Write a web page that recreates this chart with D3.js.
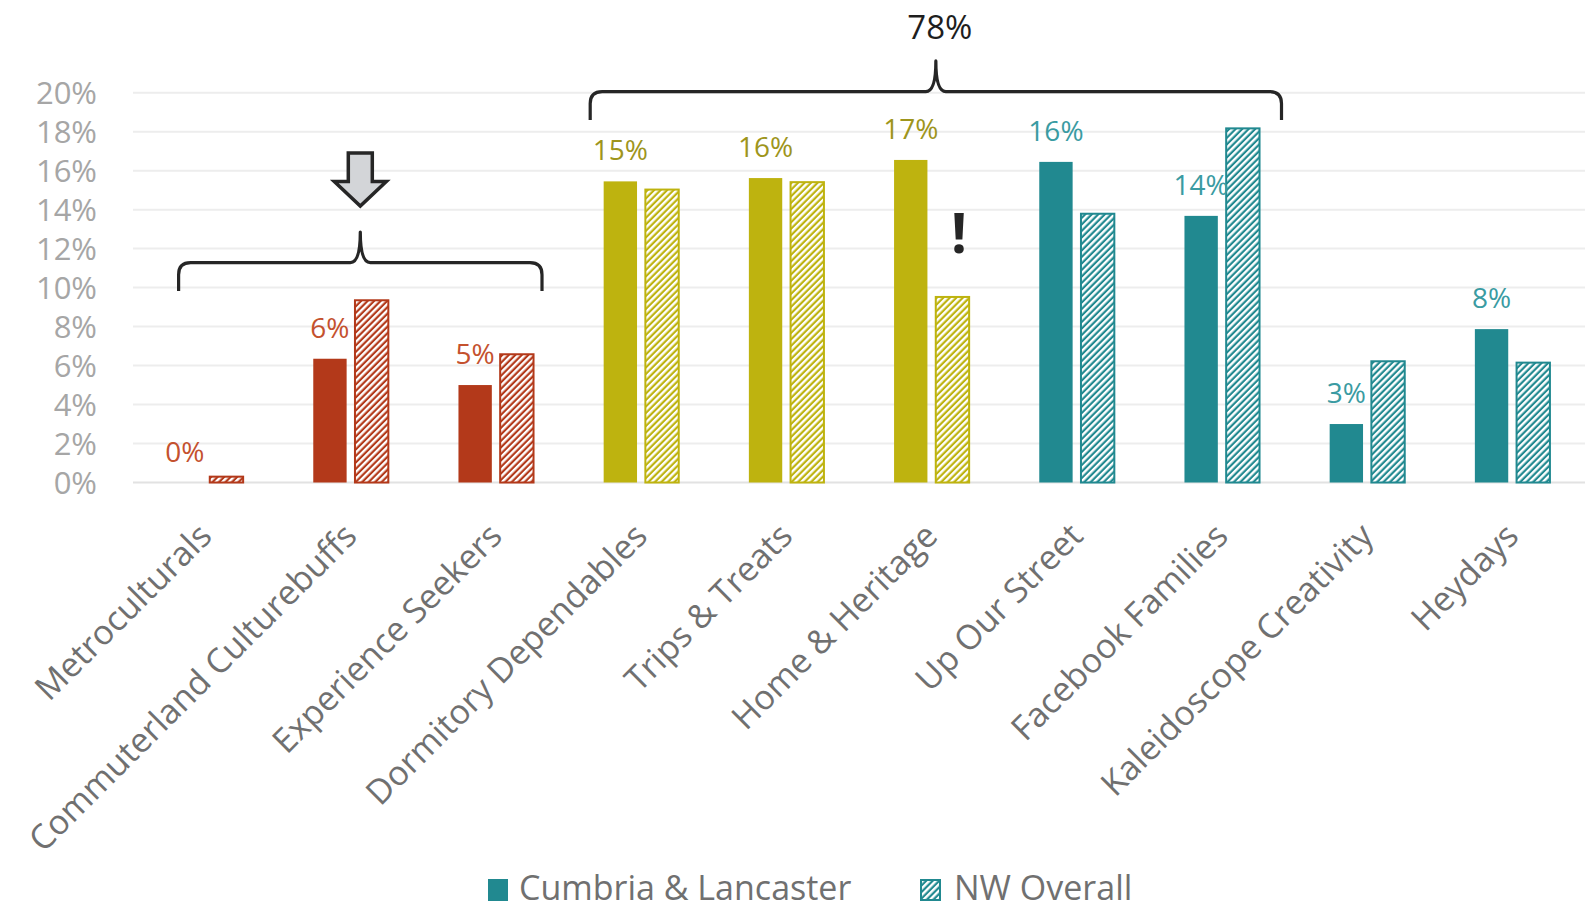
<!DOCTYPE html>
<html><head><meta charset="utf-8">
<script src="https://cdn.jsdelivr.net/npm/d3@7"></script>
<style>
body{margin:0;background:#fff}
svg{display:block}
text{font-family:"Open Sans",sans-serif}
</style>
</head><body>
<svg id="chart" width="1596" height="909"></svg>
<script>
// ---- data ----
const categories = ["Metroculturals","Commuterland Culturebuffs","Experience Seekers","Dormitory Dependables","Trips & Treats","Home & Heritage","Up Our Street","Facebook Families","Kaleidoscope Creativity","Heydays"];
const seriesNames = ["Cumbria & Lancaster","NW Overall"];
const cumbria   = [0.000,0.0635,0.050,0.1545,0.1562,0.1655,0.1645,0.1368,0.030,0.0787];
const nwOverall = [0.003,0.0935,0.0658,0.1503,0.1541,0.0952,0.1379,0.1817,0.0622,0.0615];
const segmentGroup = ["red","red","red","olive","olive","olive","teal","teal","teal","teal"];
const yTicks = [0,0.02,0.04,0.06,0.08,0.10,0.12,0.14,0.16,0.18,0.20];
const bigBraceLabel = "78%";

// ---- styles ----
const barColor = {red:"#B3391A", olive:"#BEB30F", teal:"#218990"};
const labelColor = {red:"#C4512E", olive:"#9E951C", teal:"#3A9BA2"};

const svg = d3.select("#chart");
const plotL = 133, plotR = 1585, plotT = 92.7, plotB = 482.5;

const x0 = d3.scaleBand().domain(categories).range([plotL, plotR]).paddingInner(0.483).paddingOuter(0.2415);
const x1 = d3.scaleBand().domain(seriesNames).range([0, x0.bandwidth()]).paddingInner(0.2);
const y = d3.scaleLinear().domain([0, 0.2]).range([plotB, plotT]);

// patterns
const defs = svg.append("defs");
Object.entries(barColor).forEach(([k,c]) => {
  const p = defs.append("pattern").attr("id","hatch-"+k)
    .attr("patternUnits","userSpaceOnUse").attr("width",4.6).attr("height",4.6)
    .attr("patternTransform","rotate(45)");
  p.append("rect").attr("width",4.6).attr("height",4.6).attr("fill",c);
  p.append("rect").attr("x",0).attr("width",2.4).attr("height",4.6).attr("fill","#fff");
});

// gridlines
svg.append("g").selectAll("line").data(yTicks).join("line")
  .attr("x1", plotL).attr("x2", plotR)
  .attr("y1", d => y(d)).attr("y2", d => y(d))
  .attr("stroke", d => d === 0 ? "#E2E2E2" : "#EDEDED").attr("stroke-width", 2);

// y axis labels
const yAxis = d3.axisLeft(y).tickValues(yTicks).tickFormat(d3.format(".0%")).tickSize(0).tickPadding(0);
const ya = svg.append("g").attr("transform","translate(97,0)").call(yAxis);
ya.select(".domain").remove();
ya.selectAll("text").attr("fill","#A6A6A6").style("font-size","31px").style("font-family","'Open Sans',sans-serif").attr("dy","0.36em");

// bars
const rows = categories.map((c,i) => ({cat:c, grp:segmentGroup[i], vals:[cumbria[i], nwOverall[i]]}));
const g = svg.append("g");
rows.forEach(r => {
  const gx = x0(r.cat);
  g.append("rect")
    .attr("x", gx + x1(seriesNames[0])).attr("width", x1.bandwidth())
    .attr("y", y(r.vals[0])).attr("height", plotB - y(r.vals[0]))
    .attr("fill", barColor[r.grp]);
  const hy = y(r.vals[1]);
  g.append("rect")
    .attr("x", gx + x1(seriesNames[1])).attr("width", x1.bandwidth())
    .attr("y", hy).attr("height", Math.max(0, plotB - hy))
    .attr("fill", "url(#hatch-" + r.grp + ")")
    .attr("stroke", barColor[r.grp]).attr("stroke-width", 2);
  g.append("text")
    .attr("x", gx + x1(seriesNames[0]) + x1.bandwidth()/2)
    .attr("y", y(r.vals[0]) - 21)
    .attr("text-anchor","middle")
    .attr("fill", labelColor[r.grp]).style("font-size","28px")
    .text(Math.round(r.vals[0]*100) + "%");
});

// category labels
svg.append("g").selectAll("text").data(categories).join("text")
  .attr("transform", d => `translate(${x0(d) + x0.bandwidth()/2 + 8},538) rotate(-45)`)
  .attr("text-anchor","end")
  .attr("fill","#707070").style("font-size","34px")
  .text(d => d);

// ---- annotations ----
function brace(xa, xb, yh, yb, yt) {
  const xm = (xa + xb)/2, r = 12, r2 = 10;
  return `M${xa},${yb} L${xa},${yh+r} Q${xa},${yh} ${xa+r},${yh} L${xm-r2},${yh} Q${xm},${yh} ${xm},${yt}` +
         ` Q${xm},${yh} ${xm+r2},${yh} L${xb-r},${yh} Q${xb},${yh} ${xb},${yh+r} L${xb},${yb}`;
}
const cx = c => x0(c) + x0.bandwidth()/2;
const ann = svg.append("g").attr("fill","none").attr("stroke","#262626").attr("stroke-width",3.2).attr("stroke-linejoin","round");
ann.append("path").attr("d", brace(cx(categories[0]) - 27, cx(categories[2]) + 46, y(0.1128), y(0.0983), y(0.1285)));
ann.append("path").attr("d", brace(cx(categories[3]) - 51, cx(categories[7]) + 59.5, y(0.2006), y(0.1860), y(0.2163)));

// arrow
const ax = (cx(categories[0]) - 27 + cx(categories[2]) + 46)/2;
svg.append("path")
  .attr("d", `M${ax-12},153 L${ax+12},153 L${ax+12},181.5 L${ax+26},181.5 L${ax},206 L${ax-26},181.5 L${ax-12},181.5 Z`)
  .attr("fill","#D3D5D8").attr("stroke","#262626").attr("stroke-width",3.5).attr("stroke-linejoin","miter");

// 78% label
svg.append("text").attr("x", (cx(categories[3]) - 51 + cx(categories[7]) + 59.5)/2 + 4).attr("y", 38.5)
  .attr("text-anchor","middle").attr("fill","#1E1E1E").style("font-size","33px").text(bigBraceLabel);

// exclamation
svg.append("text").attr("x", 959).attr("y", 253).attr("text-anchor","middle")
  .attr("fill","#262626").style("font-size","56px").style("font-weight","bold").text("!");

// legend
const lg = svg.append("g");
lg.append("rect").attr("x",488).attr("y",879).attr("width",20).attr("height",22).attr("fill",barColor.teal);
lg.append("text").attr("x",519).attr("y",900).attr("fill","#707070").style("font-size","34px").text(seriesNames[0]);
lg.append("rect").attr("x",921).attr("y",880).attr("width",19).attr("height",20).attr("fill","url(#hatch-teal)").attr("stroke",barColor.teal).attr("stroke-width",2);
lg.append("text").attr("x",954).attr("y",900).attr("fill","#707070").style("font-size","34px").text(seriesNames[1]);
</script>
</body></html>
